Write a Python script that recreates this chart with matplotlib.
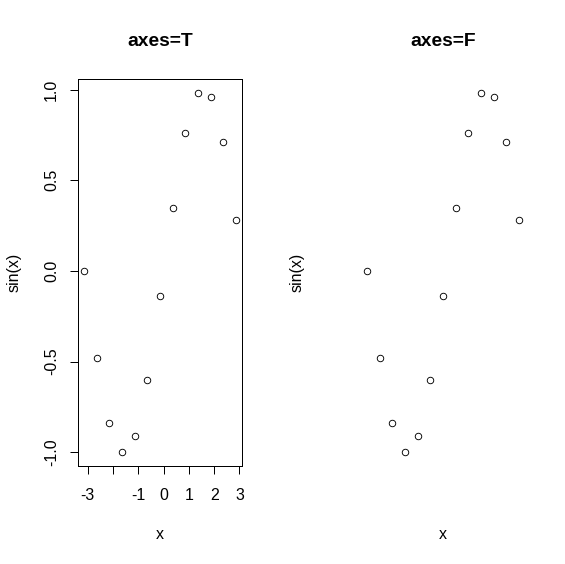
import matplotlib
matplotlib.use("Agg")
import matplotlib.pyplot as plt

x = [-3.14, -2.64, -2.14, -1.64, -1.14, -0.64, -0.14, 0.36, 0.86, 1.36, 1.86, 2.36, 2.86]
y = [0.0, -0.48, -0.84, -0.997, -0.91, -0.60, -0.14, 0.35, 0.76, 0.98, 0.96, 0.71, 0.28]
titles = ["axes=T", "axes=F"]
xticks = [-3, -2, -1, 0, 1, 2, 3]
xticklabels = ["-3", "", "-1", "0", "1", "2", "3"]
yticks = [-1.0, -0.5, 0.0, 0.5, 1.0]
yticklabels = ["-1.0", "-0.5", "0.0", "0.5", "1.0"]

plt.rcParams['font.family'] = ['Liberation Sans', 'DejaVu Sans']
W, H = 565, 564
fig = plt.figure(figsize=(W / 72, H / 72), dpi=72)
fig.patch.set_facecolor('white')

# R-style 4% padding around the data
def rlim(v):
    lo, hi = min(v), max(v)
    d = (hi - lo) * 0.04
    return lo - d, hi + d

fs = 16
left_px = [78, 361]
for i, title in enumerate(titles):
    ax = fig.add_axes([left_px[i] / W, (H - 466) / H, 164 / W, 387 / H])
    ax.plot(x, y, 'o', mfc='none', mec='black', ms=6.5, mew=0.9)
    ax.set_xlim(*rlim(x))
    ax.set_ylim(*rlim(y))
    ax.set_title(title, fontsize=fs * 1.2, fontweight='bold', y=1.097, pad=0, va='center')
    ax.set_xlabel('x', fontsize=fs, va='center')
    ax.xaxis.set_label_coords(0.5, -0.178)
    ax.set_ylabel('sin(x)', fontsize=fs, va='center')
    ax.yaxis.set_label_coords(-0.39, 0.5)
    if i == 0:
        for s in ax.spines.values():
            s.set_linewidth(1.0)
        ax.set_xticks(xticks)
        ax.set_xticklabels(xticklabels, fontsize=fs)
        ax.set_yticks(yticks)
        ax.set_yticklabels(yticklabels, fontsize=fs, rotation=90, va='center')
        ax.tick_params(direction='out', length=8, width=1.0)
        ax.tick_params(axis='x', pad=14)
        ax.tick_params(axis='y', pad=11)
    else:
        for s in ax.spines.values():
            s.set_visible(False)
        ax.set_xticks([])
        ax.set_yticks([])

fig.savefig('out.png', dpi=72, facecolor='white')
